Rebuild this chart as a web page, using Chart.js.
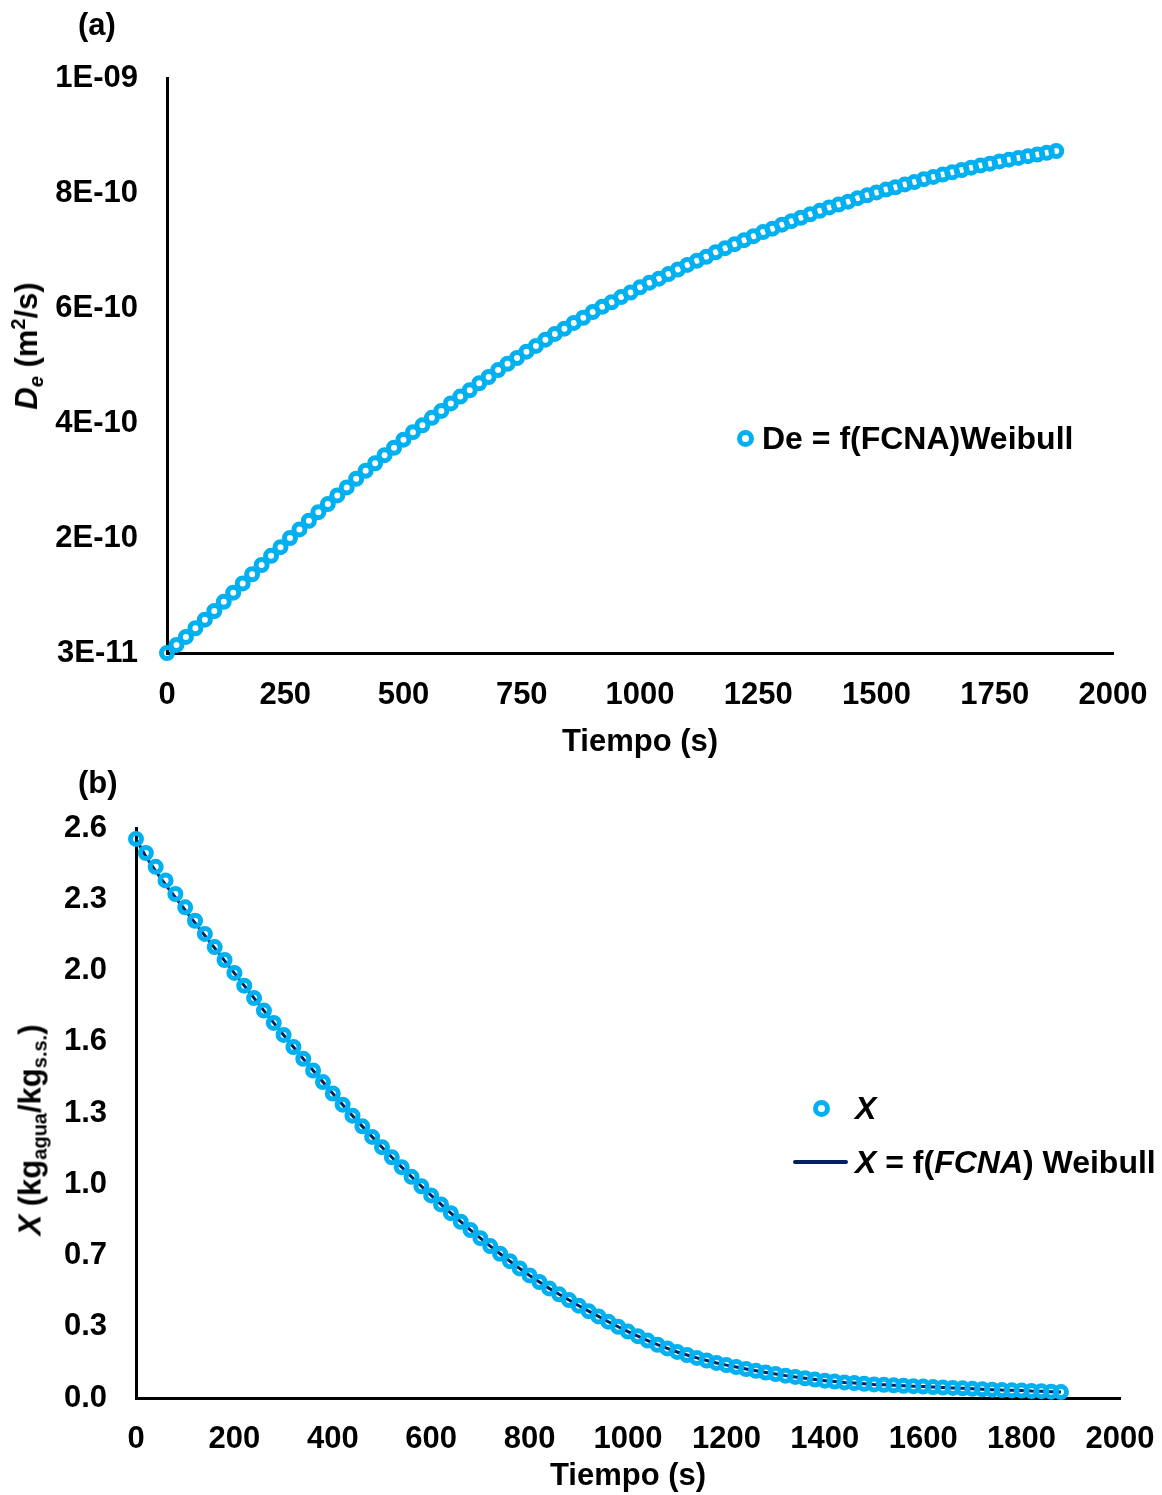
<!DOCTYPE html>
<html>
<head>
<meta charset="utf-8">
<script src="https://cdn.jsdelivr.net/npm/chart.js@4.4.0/dist/chart.umd.min.js"></script>
<style>
  body { margin: 0; background: #fff; }
  #page { position: relative; width: 1162px; height: 1495px; font-family: "Liberation Sans", Arial, sans-serif; font-weight: bold; color: #000; }
  canvas { position: absolute; left: 0; }
  .txt { position: absolute; white-space: nowrap; font-size: 31px; line-height: 36px; }
  .leg { font-size: 32px; }
  .rot { transform: translate(-50%, -50%) rotate(-90deg); }
  .sub { font-size: 20px; vertical-align: -6px; }
  .sup { font-size: 20px; vertical-align: 12px; }
  .mk { position: absolute; width: 7px; height: 7px; border: 5px solid #00B0F0; border-radius: 50%; }
  .ln { position: absolute; height: 4px; background: #002060; border-radius: 2px; }
</style>
</head>
<body>
<div id="page">
  <canvas id="chartA" width="1162" height="770" style="top:0"></canvas>
  <canvas id="chartB" width="1162" height="725" style="top:770px"></canvas>

  <div class="txt" style="left:78px;top:7px">(a)</div>
  <div class="txt" style="left:78px;top:765px">(b)</div>

  <div class="txt rot" style="left:27px;top:346px"><i>D<span class="sub">e</span></i> (m<span class="sup">2</span>/s)</div>
  <div class="txt rot" style="left:35px;top:1130px"><i>X</i> (kg<span class="sub">agua</span>/kg<span class="sub">s.s.</span>)</div>

  <div class="mk" style="left:737px;top:430px"></div>
  <div class="txt leg" style="left:762px;top:420px">De = f(FCNA)Weibull</div>

  <div class="mk" style="left:813px;top:1100px"></div>
  <div class="txt leg" style="left:855px;top:1090px"><i>X</i></div>
  <div class="ln" style="left:793px;top:1160px;width:55px"></div>
  <div class="txt leg" style="left:855px;top:1144px"><i>X</i> = f(<i>FCNA</i>) Weibull</div>
</div>

<script>
// tiempo (s), same grid for both panels
const tiempo = [
  0, 20, 40, 60, 80, 100, 120, 140, 160, 180,
  200, 220, 240, 260, 280, 300, 320, 340, 360, 380,
  400, 420, 440, 460, 480, 500, 520, 540, 560, 580,
  600, 620, 640, 660, 680, 700, 720, 740, 760, 780,
  800, 820, 840, 860, 880, 900, 920, 940, 960, 980,
  1000, 1020, 1040, 1060, 1080, 1100, 1120, 1140, 1160, 1180,
  1200, 1220, 1240, 1260, 1280, 1300, 1320, 1340, 1360, 1380,
  1400, 1420, 1440, 1460, 1480, 1500, 1520, 1540, 1560, 1580,
  1600, 1620, 1640, 1660, 1680, 1700, 1720, 1740, 1760, 1780,
  1800, 1820, 1840, 1860, 1880
];

// De in units of 1E-10 m2/s
const deWeibull = [
  0.30, 0.44, 0.58, 0.73, 0.88, 1.03, 1.19, 1.35, 1.51, 1.67,
  1.83, 1.99, 2.14, 2.30, 2.45, 2.60, 2.75, 2.89, 3.04, 3.18,
  3.33, 3.47, 3.60, 3.74, 3.87, 4.01, 4.14, 4.26, 4.39, 4.51,
  4.64, 4.76, 4.87, 4.99, 5.10, 5.22, 5.33, 5.43, 5.54, 5.64,
  5.75, 5.85, 5.94, 6.04, 6.13, 6.23, 6.32, 6.40, 6.49, 6.57,
  6.66, 6.74, 6.81, 6.89, 6.97, 7.05, 7.12, 7.19, 7.27, 7.34,
  7.41, 7.48, 7.55, 7.62, 7.68, 7.75, 7.81, 7.87, 7.93, 7.99,
  8.05, 8.10, 8.15, 8.21, 8.26, 8.31, 8.36, 8.40, 8.45, 8.49,
  8.54, 8.58, 8.62, 8.66, 8.70, 8.74, 8.78, 8.81, 8.85, 8.88,
  8.91, 8.94, 8.97, 9.00, 9.03
];

// X experimental (kg agua / kg s.s.)
const xExp = [
  2.550, 2.486, 2.423, 2.361, 2.299, 2.238, 2.177, 2.117, 2.057, 1.998,
  1.939, 1.881, 1.824, 1.767, 1.711, 1.656, 1.601, 1.547, 1.494, 1.441,
  1.389, 1.338, 1.288, 1.239, 1.191, 1.144, 1.098, 1.053, 1.009, 0.966,
  0.924, 0.883, 0.843, 0.804, 0.766, 0.729, 0.693, 0.658, 0.624, 0.591,
  0.559, 0.529, 0.500, 0.473, 0.447, 0.421, 0.396, 0.372, 0.348, 0.325,
  0.303, 0.282, 0.262, 0.243, 0.226, 0.210, 0.196, 0.183, 0.171, 0.160,
  0.150, 0.141, 0.132, 0.124, 0.116, 0.109, 0.102, 0.096, 0.090, 0.084,
  0.079, 0.075, 0.071, 0.068, 0.065, 0.062, 0.060, 0.058, 0.056, 0.054,
  0.052, 0.050, 0.048, 0.046, 0.044, 0.042, 0.040, 0.038, 0.036, 0.035,
  0.034, 0.032, 0.031, 0.029, 0.027
];

// X = f(FCNA) Weibull
const xModel = [
  2.550, 2.470, 2.403, 2.342, 2.283, 2.225, 2.167, 2.109, 2.052, 1.995,
  1.938, 1.881, 1.824, 1.767, 1.711, 1.656, 1.601, 1.547, 1.494, 1.441,
  1.389, 1.338, 1.288, 1.239, 1.191, 1.144, 1.098, 1.053, 1.009, 0.966,
  0.924, 0.883, 0.843, 0.804, 0.766, 0.729, 0.693, 0.658, 0.624, 0.591,
  0.559, 0.529, 0.500, 0.473, 0.447, 0.421, 0.396, 0.372, 0.348, 0.325,
  0.303, 0.282, 0.262, 0.243, 0.226, 0.210, 0.196, 0.183, 0.171, 0.160,
  0.150, 0.141, 0.132, 0.124, 0.116, 0.109, 0.102, 0.096, 0.090, 0.084,
  0.079, 0.075, 0.071, 0.068, 0.065, 0.062, 0.060, 0.058, 0.056, 0.054,
  0.052, 0.050, 0.048, 0.046, 0.044, 0.042, 0.040, 0.038, 0.036, 0.035,
  0.034, 0.032, 0.031, 0.029, 0.027
];

// axis ticks
const yTicksA = [0.3, 2.3, 4.3, 6.3, 8.3, 10.3];
const yLabelsA = ['3E-11', '2E-10', '4E-10', '6E-10', '8E-10', '1E-09'];
const yTicksB = [0, 0.325, 0.65, 0.975, 1.3, 1.625, 1.95, 2.275, 2.6];
const yLabelsB = ['0.0', '0.3', '0.7', '1.0', '1.3', '1.6', '2.0', '2.3', '2.6'];

const font = { family: '"Liberation Sans", Arial, sans-serif', size: 31, weight: 'bold' };
const sky = '#00B0F0';
const navy = '#002060';

function markers(values) {
  return {
    data: tiempo.map((t, i) => ({ x: t, y: values[i] })),
    showLine: false,
    clip: false,
    pointRadius: 5.5,
    pointBorderWidth: 5,
    pointBorderColor: sky,
    pointBackgroundColor: 'rgba(0,0,0,0)'
  };
}

function axes(o) {
  return {
    x: {
      type: 'linear', min: 0, max: 2000,
      grid: { display: false, drawTicks: false },
      border: { color: '#000', width: 3 },
      ticks: { stepSize: o.xStep, padding: o.xPad, font: font, color: '#000', autoSkip: false, maxRotation: 0, callback: v => String(v) },
      title: { display: true, text: 'Tiempo (s)', font: font, color: '#000', padding: { top: 0, bottom: o.titlePad } },
      afterFit: s => { s.height = o.xHeight; s.paddingLeft = 0; s.paddingRight = 0; }
    },
    y: {
      type: 'linear', min: o.yTicks[0], max: o.yTicks[o.yTicks.length - 1],
      grid: { display: false, drawTicks: false },
      border: { color: '#000', width: 3 },
      afterBuildTicks: s => { s.ticks = o.yTicks.map(v => ({ value: v })); },
      ticks: { padding: 29, font: font, color: '#000', autoSkip: false, callback: (v, i) => o.yLabels[i] },
      afterFit: s => { s.width = o.yWidth; s.paddingTop = 0; s.paddingBottom = 0; }
    }
  };
}

new Chart(document.getElementById('chartA'), {
  type: 'scatter',
  data: { datasets: [markers(deWeibull)] },
  options: {
    responsive: false, animation: false, devicePixelRatio: 1,
    layout: { padding: { top: 78, right: 49, bottom: 0, left: 0 } },
    plugins: { legend: { display: false }, tooltip: { enabled: false } },
    scales: axes({ xStep: 250, xPad: 24, titlePad: 9, xHeight: 117, yTicks: yTicksA, yLabels: yLabelsA, yWidth: 167 })
  }
});

new Chart(document.getElementById('chartB'), {
  type: 'scatter',
  data: {
    datasets: [
      markers(xExp),
      {
        data: tiempo.map((t, i) => ({ x: t, y: xModel[i] })),
        showLine: true,
        clip: false,
        borderColor: navy,
        borderWidth: 3,
        pointRadius: 0,
        tension: 0
      }
    ]
  },
  options: {
    responsive: false, animation: false, devicePixelRatio: 1,
    layout: { padding: { top: 58, right: 42, bottom: 0, left: 0 } },
    plugins: { legend: { display: false }, tooltip: { enabled: false } },
    scales: axes({ xStep: 200, xPad: 23, titlePad: 0, xHeight: 97, yTicks: yTicksB, yLabels: yLabelsB, yWidth: 136 })
  }
});
</script>
</body>
</html>
